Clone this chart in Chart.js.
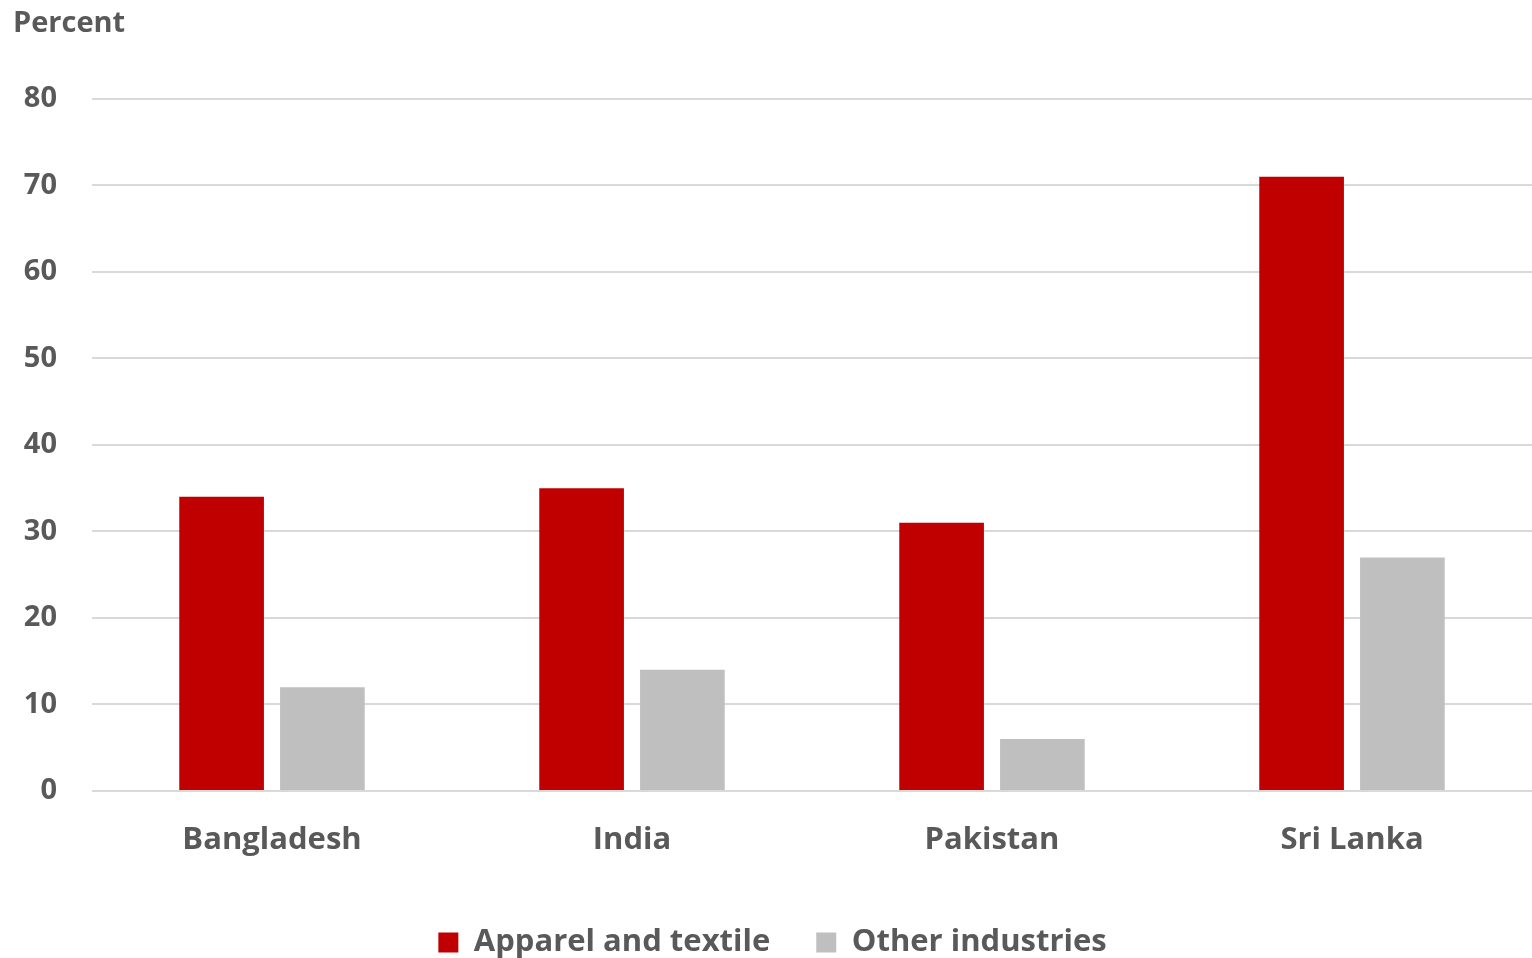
<!DOCTYPE html>
<html>
<head>
<meta charset="utf-8">
<title>Apparel and textile share</title>
<script src="https://cdn.jsdelivr.net/npm/chart.js@4.4.1/dist/chart.umd.min.js"></script>
<style>
    html, body { margin: 0; padding: 0; background: #ffffff; }
    #wrap { width: 1532px; height: 958px; }
</style>
</head>
<body>
<div id="wrap"><canvas id="shareChart"></canvas></div>
<script>
// Datos del gráfico
const countries = ['Bangladesh', 'India', 'Pakistan', 'Sri Lanka'];
const apparelTextile = [34, 35, 31, 71];
const otherIndustries = [12, 14, 6, 27];
const yTicks = [0, 10, 20, 30, 40, 50, 60, 70, 80];

const textColor = '#595959';
const fontFamily = '"Open Sans", Lato, sans-serif';

new Chart(document.getElementById('shareChart'), {
    type: 'bar',
    data: {
        labels: countries,
        datasets: [
            {
                label: 'Apparel and textile',
                data: apparelTextile,
                backgroundColor: '#c00000',
                categoryPercentage: 0.56,
                barPercentage: 0.84
            },
            {
                label: 'Other industries',
                data: otherIndustries,
                backgroundColor: '#bfbfbf',
                categoryPercentage: 0.56,
                barPercentage: 0.84
            }
        ]
    },
    options: {
        responsive: true,
        maintainAspectRatio: false,
        animation: false,
        layout: {
            // la leyenda queda pegada al borde inferior
            padding: { left: 13, right: 0, top: 0, bottom: -10 }
        },
        plugins: {
            title: {
                display: true,
                text: 'Percent',
                align: 'start',
                color: textColor,
                font: { family: fontFamily, size: 29, weight: 'bold' },
                padding: { top: 6, bottom: 58 }
            },
            legend: {
                position: 'bottom',
                labels: {
                    color: textColor,
                    font: { family: fontFamily, size: 31, weight: 'bold' },
                    boxWidth: 20,
                    boxHeight: 20,
                    padding: 46
                }
            },
            tooltip: { enabled: false }
        },
        scales: {
            x: {
                grid: { display: false, drawTicks: false },
                border: { display: false },
                ticks: {
                    color: textColor,
                    font: { family: fontFamily, size: 31, weight: 'bold' },
                    padding: 31
                },
                afterFit: function (scale) { scale.height = 90; }
            },
            y: {
                min: 0,
                max: 80,
                afterBuildTicks: function (scale) {
                    scale.ticks = yTicks.map(v => ({ value: v }));
                },
                grid: { color: '#d9d9d9', lineWidth: 2, drawTicks: false },
                border: { display: false },
                ticks: {
                    color: textColor,
                    font: { family: fontFamily, size: 29, weight: 'bold' },
                    padding: 35
                },
                afterFit: function (scale) { scale.width = 79; }
            }
        }
    }
});
</script>
</body>
</html>
